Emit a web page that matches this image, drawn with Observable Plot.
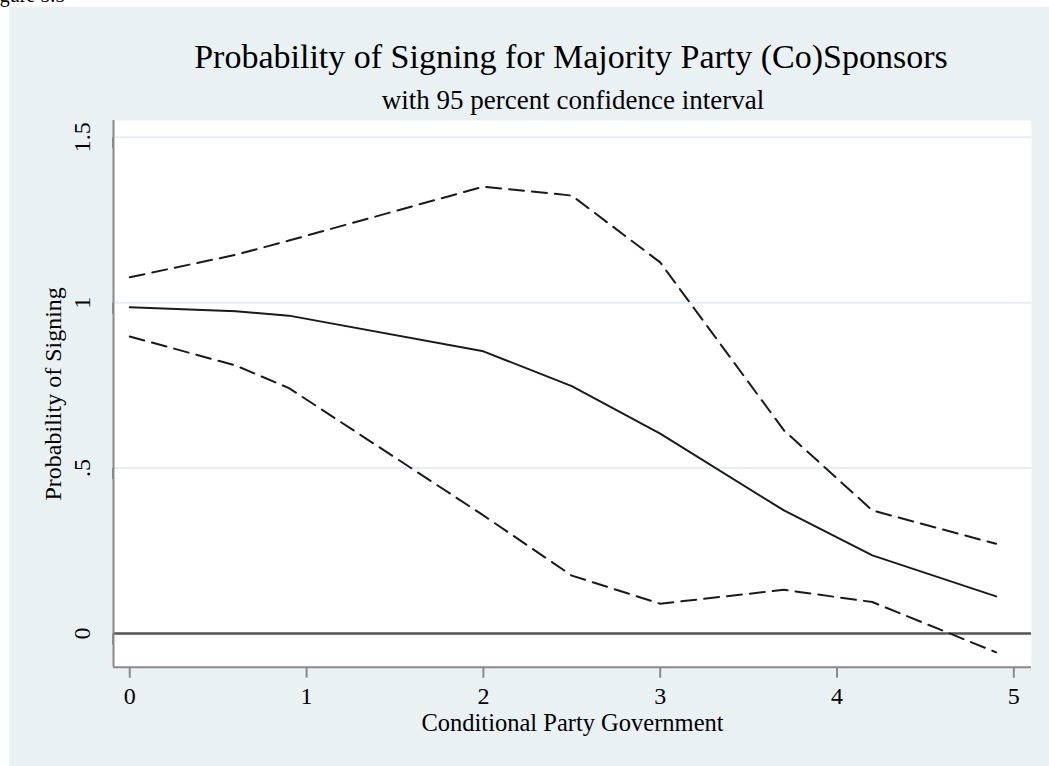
<!DOCTYPE html>
<html>
<head>
<meta charset="utf-8">
<script src="https://cdn.jsdelivr.net/npm/d3@7"></script>
<script src="https://cdn.jsdelivr.net/npm/@observablehq/plot@0.6"></script>
<style>
  html, body { margin: 0; padding: 0; background: #ffffff; width: 1049px; height: 766px; overflow: hidden; }
  body { position: relative; font-family: "Liberation Serif", "DejaVu Serif", serif; }
  #fig { position: absolute; left: -17px; top: -15px; font-size: 20px; line-height: 20px; color: #000; white-space: nowrap; }
  #box { position: absolute; left: 9px; top: 7px; width: 1040px; height: 759px; background: #e9f1f2; }
  .ttl { position: absolute; transform: translateX(-50%); white-space: nowrap; color: #000; text-align: center; }
  #title { left: 562px; top: 32.5px; font-size: 34px; line-height: 34px; }
  #subtitle { left: 564px; top: 80px; font-size: 27px; line-height: 27px; }
  #chart { position: absolute; left: 0; top: 103px; }
</style>
</head>
<body>
<div id="fig">Figure 5.5</div>
<div id="box">
  <div id="title" class="ttl">Probability of Signing for Majority Party (Co)Sponsors</div>
  <div id="subtitle" class="ttl">with 95 percent confidence interval</div>
  <div id="chart"></div>
</div>
<script>
// Data
const cpg   = [0, 0.6, 0.9, 2.0, 2.5, 3.0, 3.7, 4.2, 4.9];
const prob  = [0.986, 0.974, 0.961, 0.853, 0.748, 0.604, 0.372, 0.236, 0.112];
const upper = [1.077, 1.145, 1.188, 1.351, 1.324, 1.122, 0.614, 0.372, 0.271];
const lower = [0.898, 0.810, 0.742, 0.357, 0.175, 0.090, 0.132, 0.095, -0.057];

const xTicks = [0, 1, 2, 3, 4, 5];
const yTicks = [0, 0.5, 1, 1.5];
const yTickLabels = ["0", ".5", "1", "1.5"];
const xDomain = [-0.092, 5.1];
const yDomain = [-0.102, 1.551];

const xTitle = "Conditional Party Government";
const yTitle = "Probability of Signing";

const rows = cpg.map((x, i) => ({x, prob: prob[i], upper: upper[i], lower: lower[i]}));

const axisGray = "#8a8a8a";

const chart = Plot.plot({
  width: 1040,
  height: 656,
  marginTop: 10,
  marginBottom: 99.3,
  marginLeft: 104,
  marginRight: 18,
  style: { fontFamily: "Liberation Serif, serif", fontSize: "24px", background: "transparent", color: "#000", overflow: "visible" },
  x: { domain: xDomain },
  y: { domain: yDomain },
  marks: [
    Plot.frame({ fill: "white", stroke: "none" }),
    Plot.gridY(yTicks.filter(d => d !== 0), { stroke: "#e6eef3", strokeOpacity: 1, strokeWidth: 2 }),
    Plot.ruleY([0], { stroke: "#555555", strokeWidth: 2.5 }),
    Plot.ruleX([xDomain[0]], { stroke: axisGray, strokeWidth: 2 }),
    Plot.ruleY([yDomain[0]], { stroke: axisGray, strokeWidth: 2 }),
    Plot.axisX({ ticks: xTicks, tickSize: 11, tickPadding: 9, stroke: axisGray, strokeWidth: 2, fill: "#000", fontSize: 24, label: null, tickFormat: d => String(d) }),
    Plot.axisY({ ticks: yTicks, tickSize: 11, tickPadding: 20, stroke: axisGray, strokeWidth: 2, fill: "#000", fontSize: 24, label: null,
                 rotate: -90, textAnchor: "middle", tickFormat: d => yTickLabels[yTicks.indexOf(d)] }),
    Plot.line(rows, { x: "x", y: "upper", stroke: "#1a1a1a", strokeWidth: 2, strokeDasharray: "15,8" }),
    Plot.line(rows, { x: "x", y: "lower", stroke: "#1a1a1a", strokeWidth: 2, strokeDasharray: "15,8" }),
    Plot.line(rows, { x: "x", y: "prob", stroke: "#1a1a1a", strokeWidth: 2 }),
    Plot.text([xTitle], { frameAnchor: "bottom", dy: 64, text: d => d, fill: "#000", fontSize: 24.5 }),
    Plot.text([yTitle], { frameAnchor: "left", dx: -60, rotate: -90, textAnchor: "middle", text: d => d, fill: "#000", fontSize: 24 })
  ]
});
document.getElementById("chart").appendChild(chart);
</script>
</body>
</html>
